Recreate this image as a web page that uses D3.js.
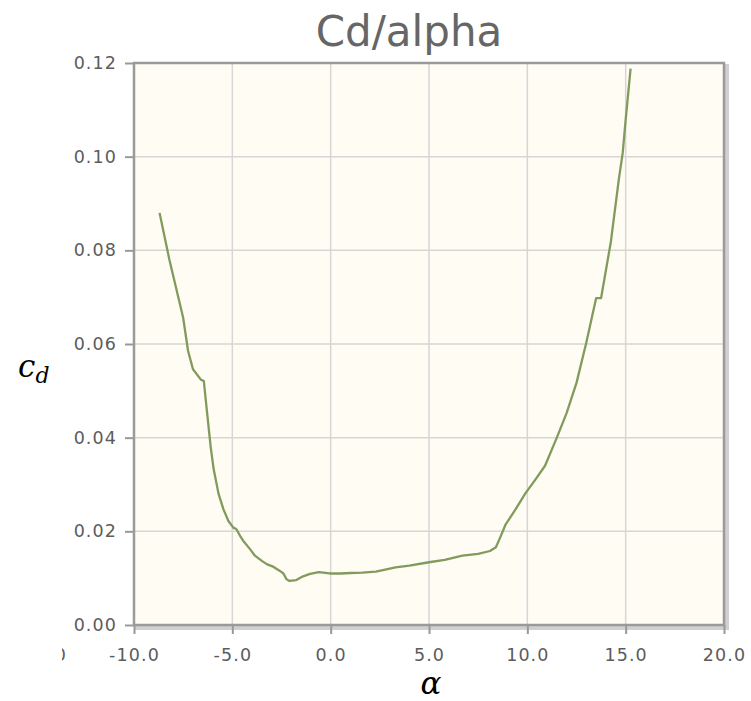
<!DOCTYPE html>
<html>

<head>
    <meta charset="UTF-8">
    <title>Cd/alpha</title>
    <script src="https://d3js.org/d3.v7.min.js"></script>
    <style>
        body {
            margin: 0;
            background: #fff;
        }

        .tick-label {
            font-family: "DejaVu Sans", sans-serif;
            font-size: 17.5px;
            letter-spacing: 1.1px;
            fill: #5c5c5c;
        }
    </style>
</head>

<body>
    <div id="chart-container"></div>
    <script>
        // angle of attack (deg) and drag coefficient
        const alpha = [-8.7, -8.2, -7.5, -7.25, -7.0, -6.6, -6.45, -6.3, -6.1, -5.95, -5.7, -5.45, -5.2, -4.95,
            -4.8, -4.6, -4.45, -4.1, -3.85, -3.5, -3.25, -2.9, -2.6, -2.4, -2.25, -2.1, -1.75, -1.4, -1.05, -0.6,
            -0.05, 0.5, 1.0, 1.6, 2.3, 3.3, 4.0, 5.0, 5.8, 6.7, 7.5, 8.1, 8.4, 8.6, 8.9, 9.4, 9.9, 10.4, 10.9,
            11.5, 12.0, 12.5, 13.0, 13.5, 13.75, 14.25, 14.65, 14.85, 15.0, 15.25];
        const cd = [0.088, 0.078, 0.0656, 0.0585, 0.0546, 0.0524, 0.0521, 0.046, 0.038, 0.0333, 0.028, 0.0247,
            0.0222, 0.0208, 0.0205, 0.0190, 0.0180, 0.0162, 0.0148, 0.0137, 0.0130, 0.0124, 0.0116, 0.0110,
            0.0098, 0.0094, 0.0096, 0.0104, 0.0109, 0.0113, 0.0110, 0.0110, 0.0111, 0.0112, 0.0114, 0.0123,
            0.0127, 0.0134, 0.0139, 0.0148, 0.0152, 0.0158, 0.0166, 0.0185, 0.0215, 0.0247, 0.0281, 0.0310,
            0.0340, 0.0400, 0.0453, 0.0517, 0.0603, 0.0698, 0.0698, 0.0819, 0.0951, 0.1008, 0.1079, 0.1188];
        const xTicks = [-15, -10, -5, 0, 5, 10, 15, 20];
        const yTicks = [0, 0.02, 0.04, 0.06, 0.08, 0.10, 0.12];

        const data = alpha.map((a, i) => ({ a: a, cd: cd[i] }));

        const width = 751;
        const height = 701;
        const plotLeft = 134, plotRight = 724, plotTop = 63, plotBottom = 625;

        const svg = d3.select('#chart-container')
            .append('svg')
            .attr('width', width)
            .attr('height', height);

        const xScale = d3.scaleLinear().domain([-10, 20]).range([plotLeft, plotRight]);
        const yScale = d3.scaleLinear().domain([0, 0.12]).range([plotBottom, plotTop]);

        // plain hyphen minus, like the original
        const fmtX = d => d3.format('.1f')(d).replace('\u2212', '-');

        // clip so the -15.0 label only peeks in at the left edge
        svg.append('clipPath').attr('id', 'page-clip')
            .append('rect').attr('x', 62).attr('y', 0).attr('width', width - 62).attr('height', height);

        // drop shadow of the plot frame
        svg.append('rect')
            .attr('x', plotLeft + 3).attr('y', plotTop + 3)
            .attr('width', plotRight - plotLeft).attr('height', plotBottom - plotTop)
            .attr('fill', 'none')
            .attr('stroke', '#d0d0d0')
            .attr('stroke-width', 4);

        svg.append('rect')
            .attr('x', plotLeft).attr('y', plotTop)
            .attr('width', plotRight - plotLeft).attr('height', plotBottom - plotTop)
            .attr('fill', '#fffcf4');

        // grid
        svg.append('g')
            .selectAll('line')
            .data(xTicks.filter(t => t > -10 && t < 20))
            .join('line')
            .attr('x1', d => xScale(d)).attr('x2', d => xScale(d))
            .attr('y1', plotTop).attr('y2', plotBottom)
            .attr('stroke', '#d6d6d6').attr('stroke-width', 1.5);

        svg.append('g')
            .selectAll('line')
            .data(yTicks.filter(t => t > 0 && t < 0.12))
            .join('line')
            .attr('x1', plotLeft).attr('x2', plotRight)
            .attr('y1', d => yScale(d)).attr('y2', d => yScale(d))
            .attr('stroke', '#d6d6d6').attr('stroke-width', 1.5);

        // axes
        const xAxis = d3.axisBottom(xScale)
            .tickValues(xTicks.filter(t => t >= -10))
            .tickFormat(fmtX)
            .tickSize(9)
            .tickPadding(15);
        const gx = svg.append('g')
            .attr('transform', 'translate(0,' + plotBottom + ')')
            .attr('clip-path', 'url(#page-clip)')
            .call(xAxis);
        gx.select('.domain').remove();

        // the cut-off -15.0 label at the far left
        gx.append('text')
            .attr('x', xScale(-15) + 6).attr('y', 24)
            .attr('dy', '0.71em')
            .attr('text-anchor', 'middle')
            .text(fmtX(-15));

        const yAxis = d3.axisLeft(yScale)
            .tickValues(yTicks)
            .tickFormat(d3.format('.2f'))
            .tickSize(9)
            .tickPadding(8);
        const gy = svg.append('g')
            .attr('transform', 'translate(' + plotLeft + ',0)')
            .call(yAxis);
        gy.select('.domain').remove();

        svg.selectAll('.tick line').attr('stroke', '#999').attr('stroke-width', 2);
        svg.selectAll('.tick text').attr('class', 'tick-label').attr('fill', null);
        gx.selectAll('text').attr('class', 'tick-label').attr('fill', null);

        // frame
        svg.append('rect')
            .attr('x', plotLeft).attr('y', plotTop)
            .attr('width', plotRight - plotLeft).attr('height', plotBottom - plotTop)
            .attr('fill', 'none')
            .attr('stroke', '#9a9a9a')
            .attr('stroke-width', 2.5);

        const line = d3.line()
            .x(d => xScale(d.a))
            .y(d => yScale(d.cd));

        svg.append('path')
            .datum(data)
            .attr('fill', 'none')
            .attr('stroke', '#809b5c')
            .attr('stroke-width', 2.3)
            .attr('stroke-linejoin', 'round')
            .attr('d', line);

        // title
        svg.append('text')
            .attr('x', 409).attr('y', 46)
            .attr('text-anchor', 'middle')
            .attr('font-family', '"DejaVu Sans", sans-serif')
            .attr('font-size', 42)
            .attr('fill', '#666')
            .text('Cd/alpha');

        // axis names
        const yName = svg.append('text')
            .attr('x', 18).attr('y', 377)
            .attr('font-family', '"DejaVu Serif", serif')
            .attr('font-style', 'italic')
            .attr('fill', '#000');
        yName.append('tspan').attr('font-size', 31).text('c');
        yName.append('tspan').attr('font-size', 22).attr('dy', 6).text('d');

        svg.append('text')
            .attr('x', 431).attr('y', 694)
            .attr('text-anchor', 'middle')
            .attr('font-family', '"DejaVu Serif", serif')
            .attr('font-style', 'italic')
            .attr('font-size', 31)
            .attr('fill', '#000')
            .text('α');
    </script>
</body>

</html>
